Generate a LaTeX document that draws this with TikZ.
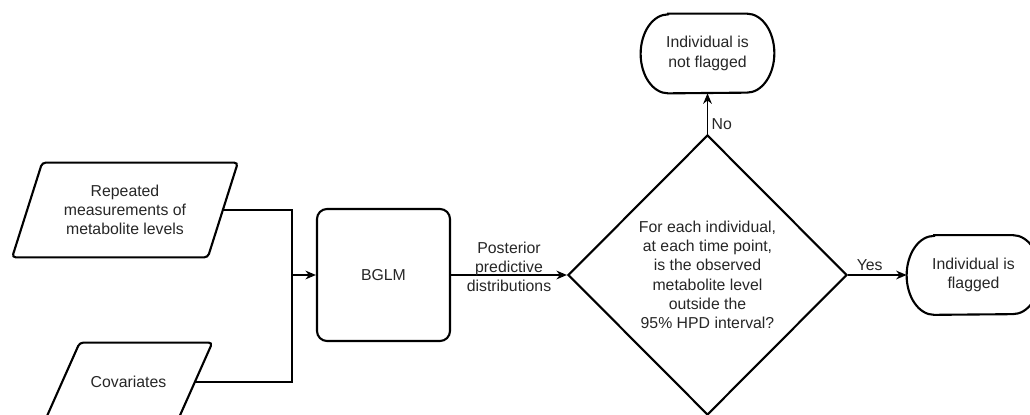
\documentclass[tikz,border=0pt]{standalone}
\usepackage{fontspec}
\setmainfont{Liberation Sans}
\usetikzlibrary{shapes.geometric,arrows.meta}

\tikzset{
  shapeline/.style={draw, line width=1.2pt},
  conn/.style={line width=0.7pt},
  datanode/.style={rectangle, align=center, inner sep=0pt},
  procnode/.style={rectangle, shapeline, rounded corners=0.2cm, minimum width=2.66cm, minimum height=2.64cm},
  decnode/.style={diamond, shapeline, align=center, minimum width=5.58cm, minimum height=5.6cm, inner sep=0pt},
  termnode/.style={rectangle, align=center, minimum width=2.66cm, minimum height=1.58cm},
  edgelabel/.style={inner sep=2pt, align=center}
}
% outline of a data box: #1 node, #2 half of the slant
\newcommand{\dataoutline}[2]{%
  \draw[line width=1.2pt, rounded corners=2pt] ([xshift=#2]#1.north west) -- ([xshift=#2]#1.north east)
    -- ([xshift=-#2]#1.south east) -- ([xshift=-#2]#1.south west) -- cycle;}
% outline of a start/end box, ends are half ellipses
\newcommand{\termoutline}[1]{%
  \draw[line width=1.2pt] ([xshift=0.55cm]#1.north west) -- ([xshift=-0.55cm]#1.north east)
    arc[start angle=90, end angle=-90, x radius=0.55cm, y radius=0.79cm]
    -- ([xshift=0.55cm]#1.south west)
    arc[start angle=270, end angle=90, x radius=0.55cm, y radius=0.79cm] -- cycle;}

\begin{document}
\begin{tikzpicture}[>={Stealth[length=6pt,width=5pt]}, font=\fontsize{9}{11}\selectfont, text=black!85]
\useasboundingbox (0,0) rectangle (20.6,8.28);
\clip (0,0) rectangle (20.6,8.28);

% inputs
\node[datanode, minimum width=3.9cm, minimum height=1.88cm] (rep) at (2.50,4.08) {Repeated\\measurements of\\metabolite levels};
\node[datanode, minimum width=2.64cm, minimum height=1.56cm] (cov) at (2.57,0.64) {Covariates};
\dataoutline{rep}{0.3cm}
\dataoutline{cov}{0.35cm}
\coordinate (join) at (5.84,2.78);

% model and decision
\node[procnode] (bglm) at (7.67,2.78) {BGLM};
\node[decnode] (dec) at (14.15,2.78) {For each individual,\\at each time point,\\is the observed\\metabolite level\\outside the\\95\% HPD interval?};

% outcomes
\node[termnode] (notflag) at (14.15,7.21) {Individual is\\not flagged};
\node[termnode] (flag) at (19.47,2.78) {Individual is\\flagged};
\termoutline{notflag}
\termoutline{flag}

\draw[conn] (rep.east) -| (join);
\draw[conn] (cov.east) -| (join);
\draw[conn,->] (join) -- (bglm.west);
\draw[conn,->] (bglm.east) -- node[edgelabel, yshift=0.16cm] {Posterior\\predictive\\distributions} (dec.west);
\draw[conn,->] (dec.north) -- node[edgelabel, pos=0.24, right] {No} (notflag.south);
\draw[conn,->] (dec.east) -- node[edgelabel, pos=0.37, above] {Yes} (flag.west);
\end{tikzpicture}
\end{document}
